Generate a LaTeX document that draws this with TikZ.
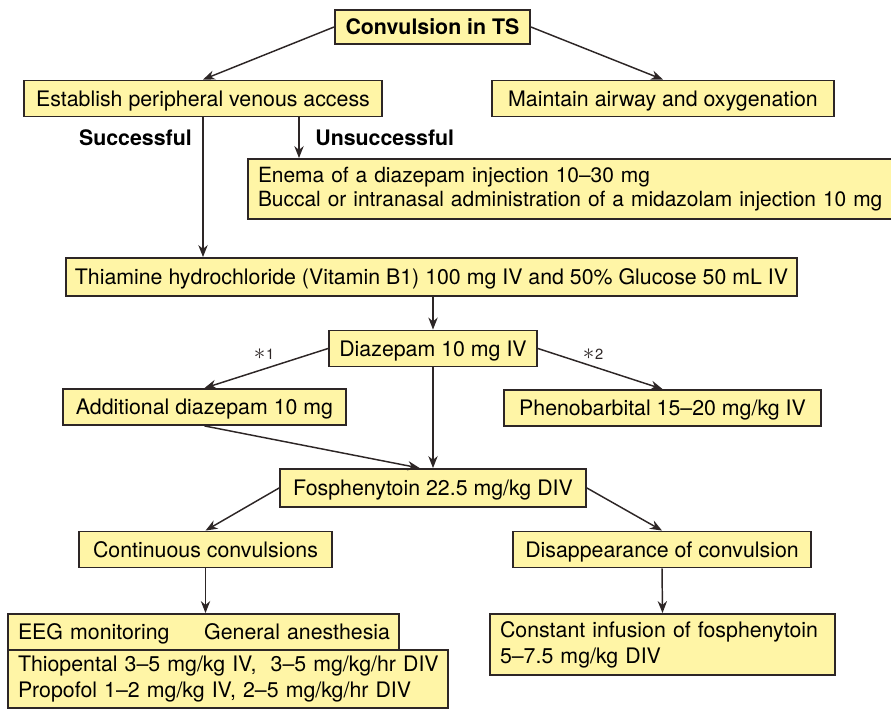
\documentclass[tikz,border=0pt]{standalone}
\usepackage{fontspec}
\setmainfont{TeX Gyre Heros}
\usetikzlibrary{arrows.meta}
\definecolor{boxfill}{RGB}{255,245,166}
\definecolor{boxline}{RGB}{45,38,38}
\newcommand{\starmark}[1]{{\fontsize{18}{18}\selectfont$\ast$}\kern0.5pt#1}
\tikzset{
	shell/.style={draw=boxline, fill=boxfill, line width=1.4pt, inner sep=0pt, minimum height=27pt, font=\fontsize{16}{19.5}\selectfont},
	box/.style={shell, text height=11.5pt, text depth=0pt},
	lbox/.style={shell, align=left, inner xsep=7.5pt},
	note/.style={inner sep=0pt, font=\fontsize{16}{19.5}\selectfont\bfseries},
	star/.style={inner sep=0pt, font=\fontsize{11}{11}\selectfont, text=boxline},
	flow/.style={draw=boxline, line width=1.1pt, -{Stealth[length=9pt,width=7pt]}}
}

\begin{document}
\begin{tikzpicture}[x=0.75pt,y=0.75pt,yscale=-1,xscale=1]
	\useasboundingbox (0,0) rectangle (891,710);
	\clip (0,0) rectangle (891,710);
	\node[box, minimum width=146.25pt, minimum height=25.5pt] (conv) at (432.5,27) {\textbf{Convulsion in TS}};
	\node[box, minimum width=268.5pt] (venous) at (203,98.5) {Establish peripheral venous access};
	\node[box, minimum width=256.5pt] (airway) at (663,98.5) {Maintain airway and oxygenation};
	\node[lbox, text width=480pt, minimum height=45pt, font=\fontsize{15.7}{18}\selectfont] (enema) at (578,189) {Enema of a diazepam injection 10–30 mg\\\mbox{Buccal or intranasal administration of a midazolam injection 10 mg}};
	\node[box, minimum width=548.25pt, minimum height=28.5pt] (thiamine) at (431.5,277) {Thiamine hydrochloride (Vitamin B1) 100 mg IV and 50\% Glucose 50 mL IV};
	\node[box, minimum width=156pt] (diazepam) at (433,348.5) {Diazepam 10 mg IV};
	\node[box, minimum width=212.25pt] (adddiaz) at (204.5,407) {Additional diazepam 10 mg};
	\node[box, minimum width=237.75pt] (pheno) at (662.5,408) {Phenobarbital 15–20 mg/kg IV};
	\node[box, minimum width=229.5pt, minimum height=28.5pt] (fospheny) at (433,488) {Fosphenytoin 22.5 mg/kg DIV};
	\node[box, minimum width=189.75pt] (contin) at (205.5,549.5) {Continuous convulsions};
	\node[box, minimum width=223.5pt] (disapp) at (662,549.5) {Disappearance of convulsion};
	\node[lbox, text width=315pt, minimum height=43.5pt] (anesdose) at (228,679) {\mbox{Thiopental 3–5 mg/kg IV,\ \ 3–5 mg/kg/hr DIV}\\\mbox{Propofol 1–2 mg/kg IV, 2–5 mg/kg/hr DIV}};
	\node[lbox, text width=278.25pt, text height=11.5pt, text depth=0pt] (eeg) at (203.5,632) {\mbox{EEG monitoring\hspace{26pt}General anesthesia}};
	\node[lbox, text width=243.75pt, minimum height=45.75pt] (infusion) at (662.5,644.5) {Constant infusion of fosphenytoin\\5–7.5 mg/kg DIV};
	\node[note, anchor=east] (succ) at (192,138) {Successful};
	\node[note, anchor=west] (unsucc) at (315,138) {Unsuccessful};
	\node[star] (star1) at (264,354) {\starmark{1}};
	\node[star] (star2) at (593,354) {\starmark{2}};
	\draw[flow] (conv.west) -- (venous.north);
	\draw[flow] (conv.east) -- (airway.north);
	\draw[flow] (venous.south) -- (venous.south |- thiamine.north);
	\draw[flow] ([xshift=72pt]venous.south) -- ([xshift=72pt]venous.south |- enema.north);
	\draw[flow] (diazepam.north |- thiamine.south) -- (diazepam.north);
	\draw[flow] (diazepam.west) -- (adddiaz.north);
	\draw[flow] (diazepam.east) -- (pheno.north);
	\draw[flow] (diazepam.south) -- (fospheny.north);
	\draw[flow] (adddiaz.south) -- ([xshift=-10pt]fospheny.north);
	\draw[flow] (fospheny.west) -- (contin.north);
	\draw[flow] (fospheny.east) -- (disapp.north);
	\draw[flow] (contin.south) -- (contin.south |- eeg.north);
	\draw[flow] (disapp.south) -- (infusion.north);
\end{tikzpicture}
\end{document}
